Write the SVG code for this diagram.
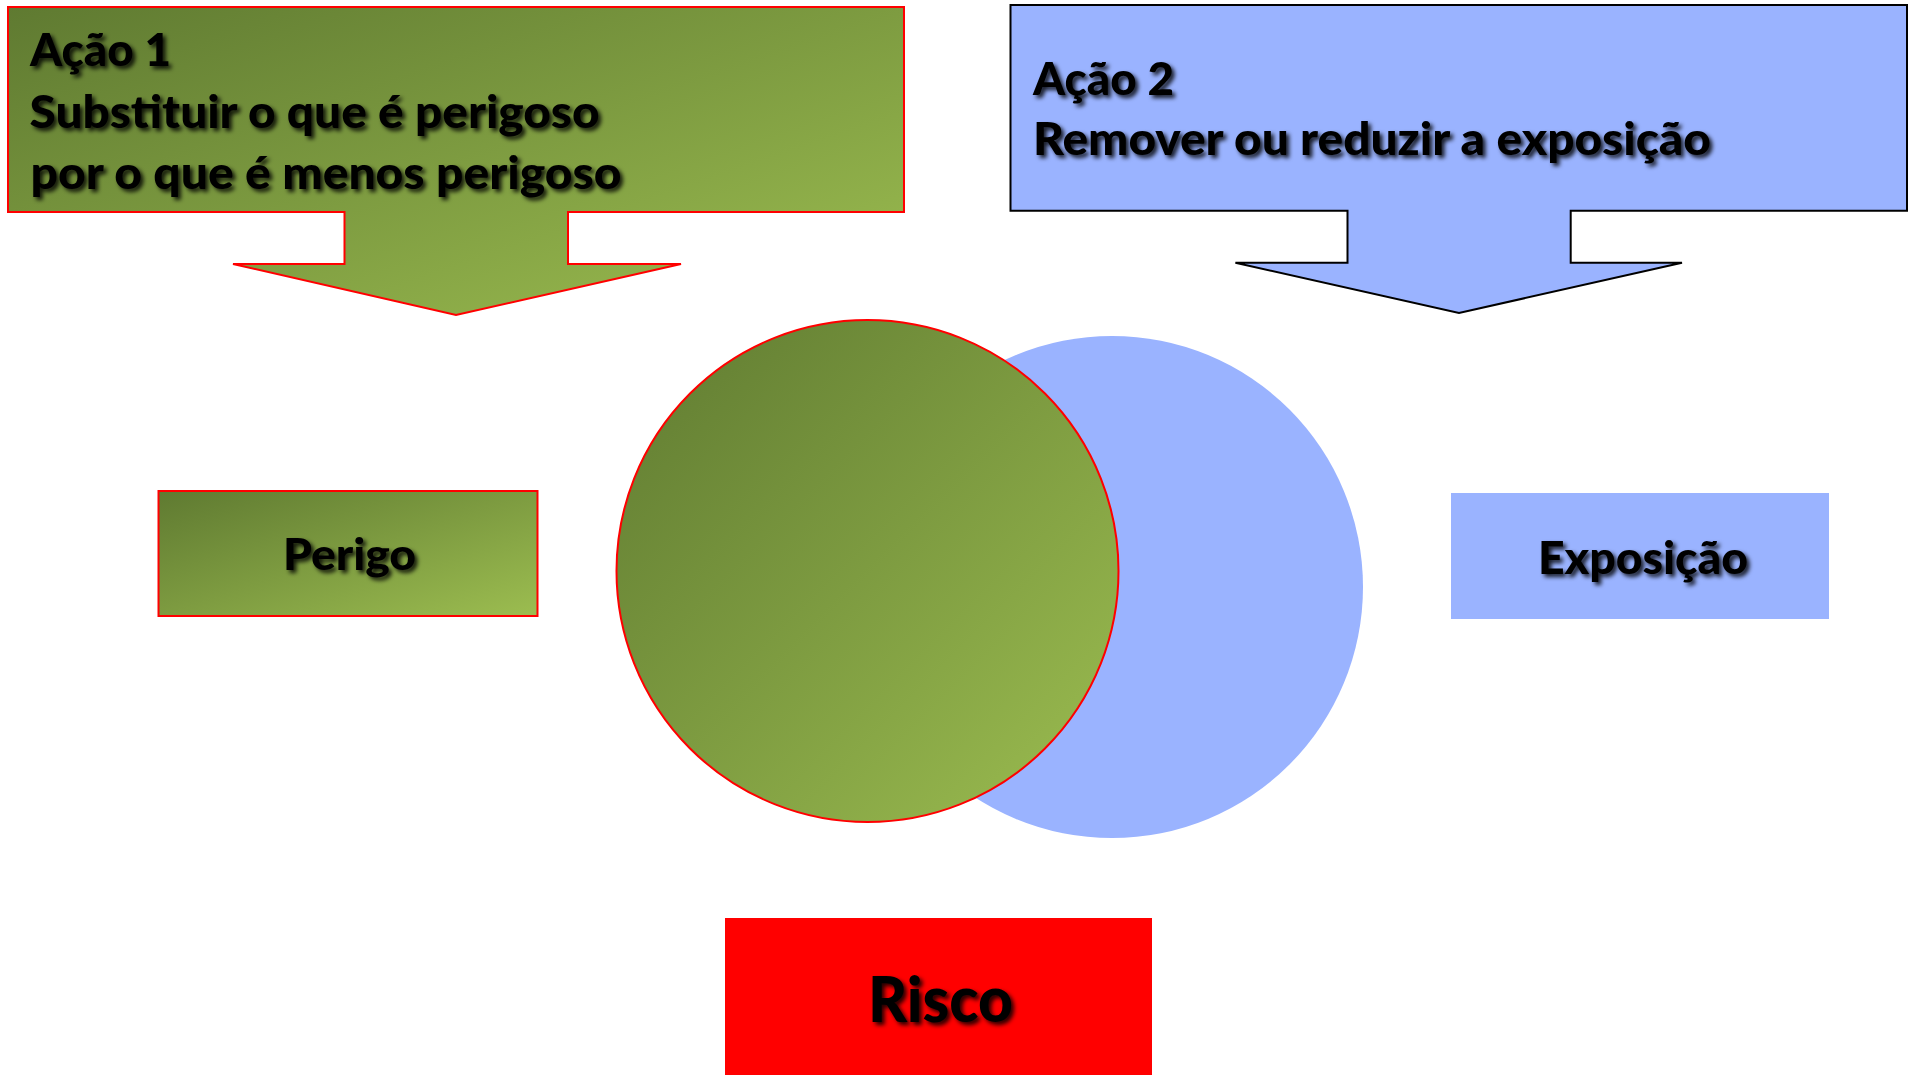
<svg xmlns="http://www.w3.org/2000/svg" width="1916" height="1075" viewBox="0 0 1916 1075">
  <style>
    .t { font-family: Lato, "Open Sans", "Liberation Sans", sans-serif; font-weight: 900; fill: #000; filter: url(#shadow); }
    .green { fill: url(#gGreen); stroke: #FF0000; stroke-width: 2; }
    .blue { fill: #9AB3FF; }
  </style>
  <defs>
    <linearGradient id="gGreen" x1="0" y1="0" x2="1" y2="1">
      <stop offset="0" stop-color="#5F7A31"/>
      <stop offset="1" stop-color="#9CBD50"/>
    </linearGradient>
    <filter id="shadow" x="-10%" y="-20%" width="120%" height="150%">
      <feDropShadow dx="3" dy="3" stdDeviation="2" flood-color="#000" flood-opacity="0.85"/>
    </filter>
  </defs>
  <rect width="1916" height="1075" fill="#FFFFFF"/>

  <g id="blue-circle">
    <circle class="blue" cx="1112" cy="587" r="251"/>
  </g>
  <g id="green-circle">
    <circle class="green" cx="867.5" cy="571" r="251"/>
  </g>

  <g id="acao1">
    <path class="green" d="M8,7 H904 V212 H568 V264 H681 L456,315 L233,264 H344.5 V212 H8 Z"/>
    <text class="t" x="30" y="66" font-size="46" textLength="141" lengthAdjust="spacingAndGlyphs">Ação 1</text>
    <text class="t" x="29.5" y="128" font-size="46" textLength="570" lengthAdjust="spacingAndGlyphs">Substituir o que é perigoso</text>
    <text class="t" x="30.5" y="189" font-size="46" textLength="591" lengthAdjust="spacingAndGlyphs">por o que é menos perigoso</text>
  </g>

  <g id="acao2">
    <path d="M1010.5,5 H1907 V210.7 H1570.7 V262.7 H1682 L1459,313 L1235.4,262.7 H1347.5 V210.7 H1010.5 Z" fill="#9AB3FF" stroke="#000" stroke-width="2"/>
    <text class="t" x="1033" y="95" font-size="46" textLength="141" lengthAdjust="spacingAndGlyphs">Ação 2</text>
    <text class="t" x="1033" y="155" font-size="46" textLength="678" lengthAdjust="spacingAndGlyphs">Remover ou reduzir a exposição</text>
  </g>

  <g id="perigo">
    <rect class="green" x="158.5" y="491" width="379" height="125"/>
    <text class="t" x="349.5" y="570" font-size="44" text-anchor="middle" textLength="133" lengthAdjust="spacingAndGlyphs">Perigo</text>
  </g>

  <g id="exposicao">
    <rect class="blue" x="1451" y="493" width="378" height="126"/>
    <text class="t" x="1643" y="574" font-size="45" text-anchor="middle" textLength="210" lengthAdjust="spacingAndGlyphs">Exposição</text>
  </g>

  <g id="risco">
    <rect x="725" y="918" width="427" height="160" fill="#FF0000"/>
    <text class="t" x="940.5" y="1022" font-size="62" text-anchor="middle" textLength="145" lengthAdjust="spacingAndGlyphs">Risco</text>
  </g>

  <g id="connectors"></g>
</svg>
